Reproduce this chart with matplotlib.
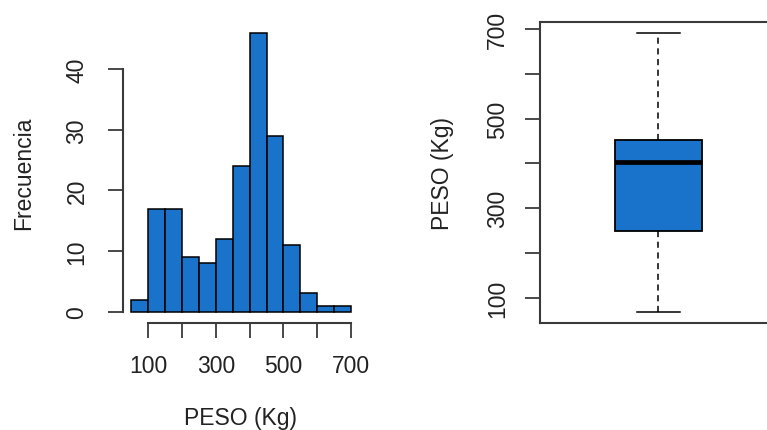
import numpy as np
import matplotlib
matplotlib.use("Agg")
import matplotlib.pyplot as plt

# frecuencias del histograma (clases de 50 kg)
bordes = [50, 100, 150, 200, 250, 300, 350, 400, 450, 500, 550, 600, 650, 700]
frecuencias = [2, 17, 17, 9, 8, 12, 24, 46, 29, 11, 3, 1, 1]

# resumen del diagrama de caja
bigote_inf = 69
q1 = 250
mediana = 403
q3 = 451
bigote_sup = 690

azul = "#1A73CB"
gris = "#3a3a3a"

plt.rcParams["font.family"] = ["Liberation Sans", "DejaVu Sans"]
plt.rcParams["font.size"] = 16.5

fig = plt.figure(figsize=(7.67, 4.31), dpi=100)

W, H = 767.0, 431.0
def caja(x0, y0, x1, y1):
    return [x0 / W, 1 - y1 / H, (x1 - x0) / W, (y1 - y0) / H]

# ---- histograma ----
ax1 = fig.add_axes(caja(122.6, 22.8, 359.8, 323.8))
ax1.bar(bordes[:-1], frecuencias, width=np.diff(bordes), align="edge",
        color=azul, edgecolor="black", linewidth=1.1)
ax1.set_xlim(24, 726)
ax1.set_ylim(-1.84, 47.84)
for s in ["top", "right"]:
    ax1.spines[s].set_visible(False)
ax1.spines["left"].set_bounds(0, 40)
ax1.spines["bottom"].set_bounds(100, 700)
ax1.set_xticks(range(100, 701, 100))
ax1.set_xticklabels(["100", "", "300", "", "500", "", "700"])
ax1.set_yticks(range(0, 41, 10))
ax1.set_yticklabels(["0", "10", "20", "30", "40"], rotation=90, va="center")

# ---- diagrama de caja ----
ax2 = fig.add_axes(caja(540.3, 22.8, 776.5, 323.8))
stats = [dict(whislo=bigote_inf, q1=q1, med=mediana, q3=q3, whishi=bigote_sup, fliers=[])]
ax2.bxp(stats, positions=[1], widths=0.4, capwidths=0.2, patch_artist=True,
        boxprops=dict(facecolor=azul, edgecolor="black", linewidth=1.3),
        medianprops=dict(color="black", linewidth=3.4),
        whiskerprops=dict(color="black", linewidth=1.1, linestyle=(0, (4, 3))),
        capprops=dict(color="black", linewidth=1.1))
ax2.set_xlim(0.46, 1.54)
ax2.set_ylim(44.1, 715.9)
ax2.set_xticks([])
ax2.set_yticks(range(100, 701, 100))
ax2.set_yticklabels(["100", "", "300", "", "500", "", "700"], rotation=90, va="center")

for ax in (ax1, ax2):
    for s in ax.spines.values():
        s.set_color(gris)
        s.set_linewidth(1.5)
    ax.tick_params(length=10.5, width=1.3, color=gris, labelcolor="#222222")
    ax.tick_params(axis="x", pad=12)
ax1.tick_params(axis="y", pad=14)
ax2.tick_params(axis="y", pad=12)

fig.text(241 / W, 1 - 425 / H, "PESO (Kg)", ha="center", va="baseline", color="#222222")
fig.text(24 / W, 1 - 173 / H, "Frecuencia", rotation=90, ha="center", va="center", color="#222222")
fig.text(442 / W, 1 - 173 / H, "PESO (Kg)", rotation=90, ha="center", va="center", color="#222222")

fig.savefig("out.png", dpi=100)
